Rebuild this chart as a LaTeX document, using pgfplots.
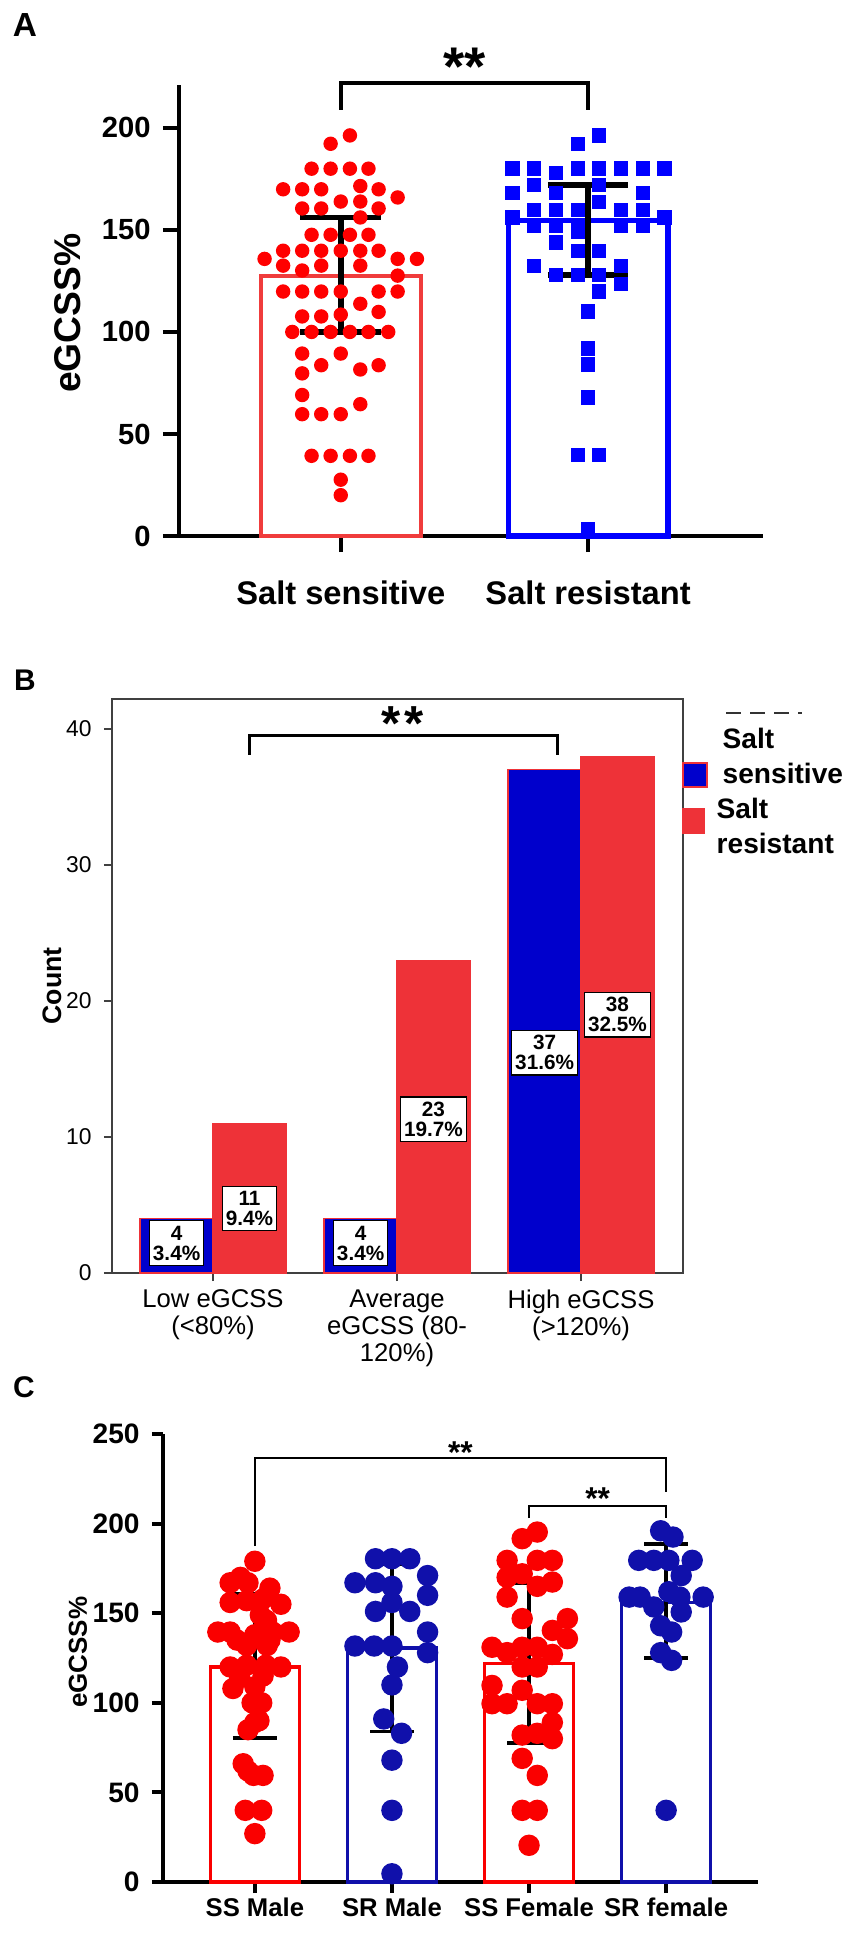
\documentclass[border=0pt]{standalone}
\usepackage{fontspec}
\setmainfont{Liberation Sans}
\usepackage{pgfplots}
\pgfplotsset{compat=1.18}

\definecolor{ared}{RGB}{255,0,0}
\definecolor{abarred}{RGB}{240,60,60}
\definecolor{ablue}{RGB}{0,0,255}
\definecolor{bblue}{RGB}{0,0,204}
\definecolor{bred}{RGB}{238,50,56}
\definecolor{cred}{RGB}{250,0,0}
\definecolor{cblue}{RGB}{16,16,170}

\newcommand{\fs}[1]{\fontsize{#1}{#1}\selectfont}

\begin{document}
\begin{tikzpicture}
\useasboundingbox (0,0) rectangle (85.1mm,-195mm);

% panel letters
\node[font=\fs{9.5}\bfseries] at (2.5mm,-2.5mm) {A};
\node[font=\fs{8.5}\bfseries] at (2.5mm,-68.0mm) {B};
\node[font=\fs{8.5}\bfseries] at (2.4mm,-138.7mm) {C};

%================ PANEL A =================
\begin{axis}[
  at={(17.9mm,-53.6mm)}, anchor=south west,
  scale only axis, width=58.4mm, height=45.1mm,
  xmin=-0.654, xmax=1.707, ymin=0, ymax=221,
  axis lines*=left,
  axis line style={line width=0.45mm},
  tick align=outside,
  major tick length=1.6mm,
  tick style={line width=0.45mm, black},
  xtick={0,1}, xticklabels={Salt sensitive, Salt resistant},
  ytick={0,50,100,150,200},
  /pgf/number format/assume math mode=true,
  yticklabel style={font=\fs{8.3}\bfseries},
  xticklabel style={font=\fs{9.3}\bfseries, yshift=-1.6mm},
  ylabel={eGCSS\%},
  ylabel style={font=\fs{10.6}\bfseries, at={(axis description cs:-0.19,0.494)}, anchor=center},
  clip=false,
]
\addplot[ybar, bar width=0.647, bar shift=0pt, draw=abarred, line width=0.4mm, fill=none] coordinates {(0,127.3)};
\addplot[ybar, bar width=0.645, bar shift=0pt, draw=ablue, line width=0.55mm, fill=none] coordinates {(1,154.5)};
% red dots
\addplot[only marks, mark=*, mark size=1.85pt, color=ared] coordinates {
(0.037,196.3)(-0.041,192.2)
(-0.118,180)(-0.041,180)(0.037,180)(0.112,180)
(0.079,171.5)
(-0.233,169.9)(-0.156,169.9)(-0.079,169.9)(0.153,169.9)
(0.230,165.9)
(0,163.9)(0.079,163.9)
(-0.156,160.5)(-0.079,160.5)(0.153,160.5)
(0.079,156.1)
(-0.118,147.6)(-0.041,147.6)(0.037,147.6)(0.112,147.6)
(-0.233,139.8)(-0.156,139.8)(-0.079,139.8)(0,139.8)(0.079,139.8)(0.153,139.8)
(-0.308,135.8)(0.230,135.8)(0.308,135.8)
(-0.233,132.5)(-0.079,132.5)(0.079,132.5)
(-0.156,130.1)
(0.230,127.6)
(-0.233,119.8)(-0.156,119.8)(-0.079,119.8)(0,119.8)(0.153,119.8)(0.230,119.8)
(0.079,113.8)
(0.153,109.8)
(-0.156,107.6)(-0.079,107.6)(0,108.5)
(-0.196,100)(-0.118,100)(-0.041,100)(0.037,100)(0.112,100)(0.192,100)
(-0.156,89.4)(0,89.4)
(-0.079,83.7)(0.153,83.7)
(0.079,81.6)
(-0.156,79.7)
(-0.156,69.1)
(0.079,64.6)
(-0.156,59.7)(-0.079,59.7)(0,59.7)
(-0.118,39.3)(-0.041,39.3)(0.037,39.3)(0.112,39.3)
(0,27.6)(0,20)
};
% blue squares
\addplot[only marks, mark=square*, mark size=1.85pt, color=ablue] coordinates {
(1.045,196.3)(0.958,192.2)
(0.694,180)(0.782,180)(0.958,180)(1.045,180)(1.133,180)(1.221,180)(1.309,180)
(0.870,178)
(0.782,172)(1.045,172)
(0.694,168)(0.870,168)(1.221,168)
(1.045,163.7)
(0.782,159.8)(0.870,159.8)(0.958,159.8)(1.133,159.8)(1.221,159.8)
(0.694,156.1)(1.309,156.1)
(0.782,152)(0.870,152)(0.958,152)(1.133,152)(1.221,152)
(0.958,149)
(0.870,143.9)
(0.958,139.8)(1.045,139.8)
(0.782,132.2)(1.133,132.2)
(0.870,128)(0.958,128)(1.045,128)
(1.133,123.6)
(1.045,119.8)
(1,110)(1,91.9)(1,84)(1,67.8)
(0.958,39.8)(1.045,39.8)
(1,3.3)
};
% error bars
\addplot[black, line width=0.55mm] coordinates {(0,100) (0,156)};
\addplot[black, line width=0.55mm] coordinates {(-0.163,100) (0.163,100)};
\addplot[black, line width=0.55mm] coordinates {(-0.163,156) (0.163,156)};
\addplot[black, line width=0.55mm] coordinates {(1,128) (1,172)};
\addplot[black, line width=0.55mm] coordinates {(0.837,128) (1.163,128)};
\addplot[black, line width=0.55mm] coordinates {(0.837,172) (1.163,172)};
% significance
\addplot[black, line width=0.35mm] coordinates {(0,209) (0,222) (1,222) (1,209)};
\node[font=\fs{15.5}\bfseries] at (axis cs:0.5,230) {**};
\end{axis}

%================ PANEL B =================
\begin{axis}[
  at={(11.2mm,-127.3mm)}, anchor=south west,
  scale only axis, width=57.1mm, height=57.4mm,
  xmin=-0.549, xmax=2.554, ymin=0, ymax=42.2,
  axis line style={line width=0.15mm, black!75},
  tick align=outside, tick pos=left,
  major tick length=0.8mm,
  tick style={line width=0.15mm, black!75},
  xtick={0,1,2},
  xticklabels={{Low eGCSS\\(<80\%)},{Average\\eGCSS (80-\\120\%)},{High eGCSS\\(>120\%)}},
  xticklabel style={font=\fontsize{7.3}{7.7}\selectfont, align=center, yshift=0.4mm},
  ytick={0,10,20,30,40},
  /pgf/number format/assume math mode=true,
  yticklabel style={font=\fs{6.5}},
  ylabel={Count},
  ylabel style={font=\fs{7.6}\bfseries, at={(axis description cs:-0.105,0.5)}, anchor=center},
  clip=false,
]
\addplot[ybar, bar width=0.397, bar shift=0pt, fill=bblue, draw=bred, line width=0.12mm] coordinates {(-0.198,4) (0.802,4) (1.802,37)};
\addplot[ybar, bar width=0.397, bar shift=0pt, fill=bred, draw=bred, line width=0.12mm] coordinates {(0.198,11) (1.198,23) (2.198,38)};
\tikzset{lbl/.style={draw=black, line width=0.12mm, fill=white, align=center, font=\fontsize{5.9}{5.7}\selectfont\bfseries, inner xsep=0.35mm, inner ysep=0.5mm}}
\node[lbl] at (axis cs:-0.198,2.2) {4\\3.4\%};
\node[lbl] at (axis cs:0.198,4.75) {11\\9.4\%};
\node[lbl] at (axis cs:0.802,2.2) {4\\3.4\%};
\node[lbl] at (axis cs:1.198,11.3) {23\\19.7\%};
\node[lbl] at (axis cs:1.802,16.2) {37\\31.6\%};
\node[lbl] at (axis cs:2.198,19.0) {38\\32.5\%};
\addplot[black, line width=0.3mm] coordinates {(0.196,38.1) (0.196,39.5) (1.87,39.5) (1.87,38.1)};
\node[font=\fs{14}\bfseries] at (axis cs:1.03,40.4) {*\hspace{0.4mm}*};
\end{axis}

% legend B
\filldraw[fill=bblue, draw=bred, line width=0.12mm] (68.3mm,-76.3mm) rectangle (70.7mm,-78.7mm);
\filldraw[fill=bred, draw=bred, line width=0.12mm] (68.3mm,-80.9mm) rectangle (70.4mm,-83.3mm);
\node[anchor=base west, inner sep=0pt, font=\fs{8}\bfseries] at (72.2mm,-74.8mm) {Salt};
\node[anchor=base west, inner sep=0pt, font=\fs{8}\bfseries] at (72.2mm,-78.3mm) {sensitive};
\node[anchor=base west, inner sep=0pt, font=\fs{8}\bfseries] at (71.6mm,-81.8mm) {Salt};
\node[anchor=base west, inner sep=0pt, font=\fs{8}\bfseries] at (71.6mm,-85.3mm) {resistant};
\draw[black!80, line width=0.25mm, dash pattern=on 1.5mm off 0.9mm] (72.6mm,-71.3mm) -- (80.2mm,-71.3mm);

%================ PANEL C =================
\begin{axis}[
  at={(16.3mm,-188.2mm)}, anchor=south west,
  scale only axis, width=59.5mm, height=44.8mm,
  xmin=-0.67, xmax=3.67, ymin=0, ymax=250,
  axis lines*=left,
  axis line style={line width=0.4mm},
  tick align=outside,
  major tick length=1.1mm,
  tick style={line width=0.4mm, black},
  xtick={0,1,2,3}, xticklabels={SS Male, SR Male, SS Female, SR female},
  ytick={0,50,100,150,200,250},
  /pgf/number format/assume math mode=true,
  yticklabel style={font=\fs{8}\bfseries},
  xticklabel style={font=\fs{7.3}\bfseries, yshift=0.8mm},
  ylabel={eGCSS\%},
  ylabel style={font=\fs{7.4}\bfseries, at={(axis description cs:-0.143,0.513)}, anchor=center},
  clip=false,
]
\addplot[ybar, bar width=0.65, bar shift=0pt, draw=cred, line width=0.33mm, fill=none] coordinates {(0,120) (2,122)};
\addplot[ybar, bar width=0.65, bar shift=0pt, draw=cblue, line width=0.33mm, fill=none] coordinates {(1,130.6) (3,156)};
% SS Male
\addplot[only marks, mark=*, mark size=2.85pt, color=cred] coordinates {
(0,179)
(-0.105,170)(-0.18,167)(-0.05,167)(0.11,164)
(-0.18,156)(-0.06,157)(0.06,158)(0.19,155)
(0.04,149)(0.085,146)
(-0.27,139.5)(-0.18,139.5)(0.13,139.5)(0.25,139.5)
(-0.13,135)(0,138)(0.11,135)
(-0.06,132)(0.09,132)
(-0.18,120)(-0.06,121)(0.08,121)(0.19,120)
(-0.11,114)(0.06,115)
(-0.16,108)(0,109)
(-0.02,100)(0.05,100)
(0.03,90)(0,89)(-0.05,85)
(-0.085,66)(-0.05,62)(-0.01,59.5)(0.06,59.5)
(-0.07,40)(0.05,40)
(0,27)
};
% SR Male
\addplot[only marks, mark=*, mark size=2.85pt, color=cblue] coordinates {
(0.88,180.4)(1,180.4)(1.13,180.4)
(0.73,167)(0.88,167)(1,165)(1.26,171)
(1,156)(0.88,151)(1.13,151)(1.26,160)
(1.26,139.5)
(0.73,131.7)(0.87,131.7)(1,131.7)(1.26,128)
(1.04,120)(1,110)
(0.94,91)(1.07,83)
(1,68)(1,40)(1,4.6)
};
% SS Female
\addplot[only marks, mark=*, mark size=2.85pt, color=cred] coordinates {
(2.06,195.3)(1.95,191.6)
(1.84,179.5)(2.06,179.5)(2.17,179.5)(1.95,172)
(1.84,170)(2.17,167.4)(2.06,165)
(1.84,159)
(1.95,147)(2.28,147)
(2.17,140.4)(2.28,135.8)
(1.73,131)(1.84,128)(1.95,131)(2.06,131)(2.17,127)
(1.95,120)(2.06,120)
(1.73,109.7)(1.95,107)
(1.73,99.5)(1.84,99.5)(2.06,99.5)(2.17,99.5)
(2.17,89)(1.95,82)(2.06,83)(2.17,80)
(1.95,69)(2.06,59.5)
(1.95,40)(2.06,40)
(2,20.5)
};
% SR female
\addplot[only marks, mark=*, mark size=2.85pt, color=cblue] coordinates {
(2.96,196)(3.05,192.5)
(2.80,179.5)(2.91,179.5)(3.02,179.5)(3.19,179.5)
(3.11,171)
(2.73,159)(2.81,159)(3.02,162)(3.10,159)(3.27,159)
(2.91,153.5)(3.11,150.7)
(2.96,143)(3.04,139.5)
(2.96,128)(3.04,123.7)
(3,40)
};
% error bars
\addplot[black, line width=0.35mm] coordinates {(0,80.4) (0,161)};
\addplot[black, line width=0.35mm] coordinates {(-0.16,80.4) (0.16,80.4)};
\addplot[black, line width=0.35mm] coordinates {(-0.16,161) (0.16,161)};
\addplot[black, line width=0.35mm] coordinates {(1,84) (1,177.5)};
\addplot[black, line width=0.35mm] coordinates {(0.84,84) (1.16,84)};
\addplot[black, line width=0.35mm] coordinates {(0.84,177.5) (1.16,177.5)};
\addplot[black, line width=0.35mm] coordinates {(2,77.5) (2,167)};
\addplot[black, line width=0.35mm] coordinates {(1.84,77.5) (2.16,77.5)};
\addplot[black, line width=0.35mm] coordinates {(1.84,167) (2.16,167)};
\addplot[black, line width=0.35mm] coordinates {(3,125) (3,188.6)};
\addplot[black, line width=0.35mm] coordinates {(2.84,125) (3.16,125)};
\addplot[black, line width=0.35mm] coordinates {(2.84,188.6) (3.16,188.6)};
% significance
\addplot[black, line width=0.2mm] coordinates {(0,187.5) (0,236.6) (3,236.6) (3,217.6)};
\addplot[black, line width=0.2mm] coordinates {(2,203) (2,210) (3,210) (3,203)};
\node[font=\fs{9}\bfseries] at (axis cs:1.5,239.4) {**};
\node[font=\fs{9}\bfseries] at (axis cs:2.5,213.7) {**};
\end{axis}
\end{tikzpicture}
\end{document}
